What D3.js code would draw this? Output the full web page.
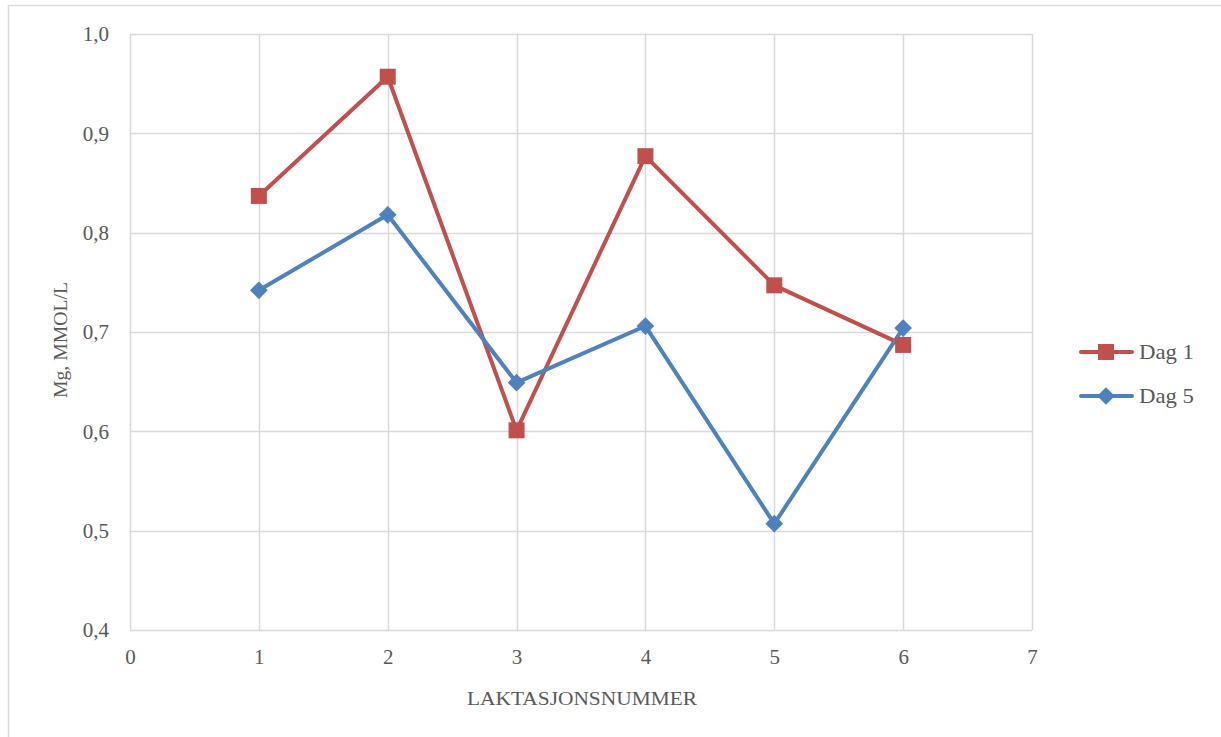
<!DOCTYPE html>
<html><head><meta charset="utf-8">
<script src="https://cdn.jsdelivr.net/npm/d3@7"></script>
<style>
html,body{margin:0;padding:0;background:#fff;}
svg{display:block;}
text{font-family:"Liberation Serif","DejaVu Serif",serif;fill:#595959;}
</style></head>
<body><svg id="c" width="1221" height="737"></svg>
<script>
const categories = [1, 2, 3, 4, 5, 6];
const dag1 = [0.837, 0.957, 0.601, 0.877, 0.747, 0.687];
const dag5 = [0.742, 0.818, 0.649, 0.706, 0.507, 0.704];
const xTicks = [0, 1, 2, 3, 4, 5, 6, 7];
const yTicks = [0.4, 0.5, 0.6, 0.7, 0.8, 0.9, 1.0];
const seriesNames = ["Dag 1", "Dag 5"];
const colors = ["#C0504D", "#4F81BD"];

const svg = d3.select("#c");
// outer chart border
svg.append("rect").attr("x", 8.5).attr("y", 5.5).attr("width", 1230).attr("height", 760)
  .attr("fill", "none").attr("stroke", "#d9d9d9").attr("stroke-width", 1.5);

const x = d3.scaleLinear().domain([0, 7]).range([130, 1032]);
const y = d3.scaleLinear().domain([0.4, 1.0]).range([630, 34]);
const fmt = v => d3.format(".1f")(v).replace(".", ",");

// gridlines
const g = svg.append("g");
g.selectAll(".hg").data(yTicks).join("line")
  .attr("x1", x(0)).attr("x2", x(7)).attr("y1", d => Math.round(y(d)) + 0.5).attr("y2", d => Math.round(y(d)) + 0.5)
  .attr("stroke", "#d9d9d9").attr("stroke-width", 1.5);
g.selectAll(".vg").data(xTicks).join("line")
  .attr("y1", y(1.0)).attr("y2", y(0.4)).attr("x1", d => Math.round(x(d)) + 0.5).attr("x2", d => Math.round(x(d)) + 0.5)
  .attr("stroke", "#d9d9d9").attr("stroke-width", 1.5);

// axes labels via d3 axes
const yAxis = svg.append("g").attr("transform", `translate(${x(0)},0)`)
  .call(d3.axisLeft(y).tickValues(yTicks).tickFormat(fmt).tickSize(0).tickPadding(21));
yAxis.select(".domain").remove();
yAxis.selectAll("text").attr("font-size", 21).attr("fill", "#595959")
  .style("font-family", "'Liberation Serif', serif");

const xAxis = svg.append("g").attr("transform", `translate(0,${y(0.4)})`)
  .call(d3.axisBottom(x).tickValues(xTicks).tickFormat(d3.format("d")).tickSize(0).tickPadding(19));
xAxis.select(".domain").remove();
xAxis.selectAll("text").attr("font-size", 21).attr("fill", "#595959")
  .style("font-family", "'Liberation Serif', serif");

// axis titles
svg.append("text").attr("x", 582).attr("y", 705).attr("text-anchor", "middle")
  .attr("font-size", 19).attr("textLength", 230).attr("lengthAdjust", "spacingAndGlyphs").text("LAKTASJONSNUMMER");
svg.append("text").attr("transform", "translate(67,340) rotate(-90)").attr("text-anchor", "middle")
  .attr("font-size", 19).attr("textLength", 116).attr("lengthAdjust", "spacingAndGlyphs").text("Mg, MMOL/L");

// series
const data = [dag1, dag5];
const line = d3.line().x((d, i) => x(categories[i])).y(d => y(d));
data.forEach((vals, s) => {
  svg.append("path").datum(vals).attr("d", line).attr("fill", "none")
    .attr("stroke", colors[s]).attr("stroke-width", 4).attr("stroke-linejoin", "round").attr("stroke-linecap", "round");
});
// markers
const sq = d3.symbol().type(d3.symbolSquare).size(256);
const dm = d3.symbol().type(d3.symbolDiamond2).size(200);
svg.selectAll(".m1").data(dag1).join("path")
  .attr("d", sq).attr("transform", (d, i) => `translate(${x(categories[i])},${y(d)})`).attr("fill", colors[0]);
svg.selectAll(".m5").data(dag5).join("path")
  .attr("d", dm).attr("transform", (d, i) => `translate(${x(categories[i])},${y(d)})`).attr("fill", colors[1]);

// legend
const legY = [352, 396];
seriesNames.forEach((name, s) => {
  const lg = svg.append("g").attr("transform", `translate(0,${legY[s]})`);
  lg.append("line").attr("x1", 1081).attr("x2", 1132).attr("y1", 0).attr("y2", 0)
    .attr("stroke", colors[s]).attr("stroke-width", 4).attr("stroke-linecap", "round");
  lg.append("path").attr("d", s === 0 ? sq : dm).attr("transform", "translate(1106,0)").attr("fill", colors[s]);
  lg.append("text").attr("x", 1139).attr("y", 7).attr("font-size", 21).attr("textLength", 55).attr("lengthAdjust", "spacingAndGlyphs").text(name);
});
</script></body></html>
